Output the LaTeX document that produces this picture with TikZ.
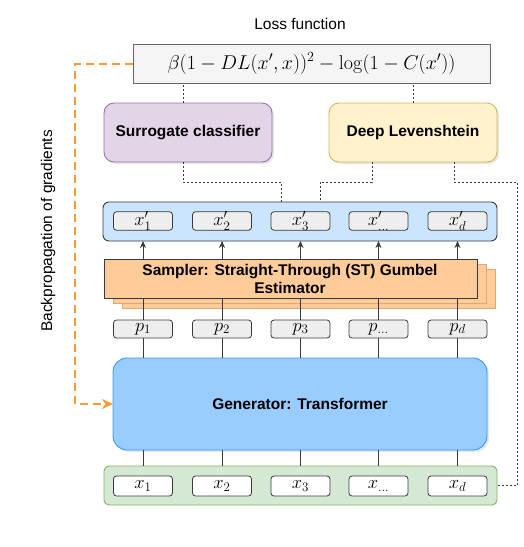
\documentclass[tikz,border=0pt]{standalone}
\usepackage{fix-cm}
\usepackage[no-math]{fontspec}
\setmainfont{Liberation Sans}
\usetikzlibrary{arrows.meta,shadows}
\definecolor{lossfill}{HTML}{F5F5F5}
\definecolor{lossdraw}{HTML}{666666}
\definecolor{surfill}{HTML}{E1D5E7}
\definecolor{surdraw}{HTML}{9673A6}
\definecolor{dlfill}{HTML}{FFF2CC}
\definecolor{dldraw}{HTML}{D6B656}
\definecolor{xpfill}{HTML}{CCE5FF}
\definecolor{darkline}{HTML}{36393D}
\definecolor{cellfill}{HTML}{EEEEEE}
\definecolor{sampfill}{HTML}{FFCC99}
\definecolor{sampback}{HTML}{E0A870}
\definecolor{genfill}{HTML}{99CCFF}
\definecolor{gendraw}{HTML}{3399FF}
\definecolor{grfill}{HTML}{D5E8D4}
\definecolor{grdraw}{HTML}{82B366}
\definecolor{bporange}{HTML}{FF9933}
\begin{document}
\begin{tikzpicture}[x=1pt,y=-1pt,
  every node/.style={inner sep=0pt, outer sep=0pt},
  lbl/.style={font=\fontsize{15.5}{18}\selectfont},
  blbl/.style={font=\fontsize{15.5}{18.5}\selectfont\bfseries, align=center},
  shd/.style={drop shadow={opacity=0.2, shadow xshift=2pt, shadow yshift=-2pt}},
  lossbox/.style={draw=lossdraw, fill=lossfill, line width=0.9pt, minimum width=357pt, minimum height=39pt},
  modbox/.style={rounded corners=10pt, line width=0.9pt, minimum width=168pt, minimum height=59pt, blbl, shd},
  rowbox/.style={rounded corners=6pt, line width=0.9pt, minimum width=394pt, minimum height=39pt},
  cell/.style={draw=darkline, fill=cellfill, rounded corners=3pt, line width=0.8pt, minimum width=59pt, minimum height=18pt, font=\fontsize{18.5}{18.5}\selectfont},
  xcell/.style={cell, fill=white, minimum height=20pt},
  sampbox/.style={draw=darkline, fill=sampfill, line width=0.8pt, minimum width=373pt, minimum height=39pt},
  sampbk/.style={sampbox, draw=sampback},
  dotline/.style={draw=darkline, line width=0.8pt, dash pattern=on 2pt off 2pt},
  conn/.style={draw=darkline, line width=0.8pt},
  arr/.style={conn, -{Stealth[length=7pt, width=6pt]}},
  bp/.style={draw=bporange, line width=2pt, dash pattern=on 8pt off 5pt, -{Stealth[length=11pt, width=10pt, inset=3.5pt]}}
]
\useasboundingbox (0,0) rectangle (523,547);

% loss
\node[lbl] (losslbl) at (300,24) {Loss function};
\node[lossbox] (loss) at (311.5,63.5) {\fontsize{20}{24}\selectfont$\beta(1-DL(x',x))^2-\log(1-C(x'))$};

% models
\node[modbox, draw=surdraw, fill=surfill] (surr) at (188,132.5) {Surrogate classifier};
\node[modbox, draw=dldraw, fill=dlfill] (dl) at (413,132.5) {Deep Levenshtein};

% x' row
\node[rowbox, draw=darkline, fill=xpfill] (xp) at (300,221.5) {};
\node[cell] (xp1) at (143,221) {$x'_1$};
\node[cell] (xp2) at (222,221) {$x'_2$};
\node[cell] (xp3) at (300.5,221) {$x'_3$};
\node[cell] (xp4) at (378.5,221) {$x'_{\dots}$};
\node[cell] (xp5) at (457.5,221) {$x'_d$};

% sampler
\node[sampbk] (samp3) at (308.5,288.5) {};
\node[sampbk] (samp2) at (299.5,283.5) {};
\node[sampbox] (samp) at (290.5,278.5) {};
\node[blbl] (samptxt) at (290,279) {Sampler: Straight-Through (ST) Gumbel\\Estimator};

% p row
\node[cell] (p1) at (143,329) {$p_1$};
\node[cell] (p2) at (222,329) {$p_2$};
\node[cell] (p3) at (300.5,329) {$p_3$};
\node[cell] (p4) at (378.5,329) {$p_{\dots}$};
\node[cell] (p5) at (457.5,329) {$p_d$};

% generator
\node[draw=gendraw, fill=genfill, rounded corners=14pt, line width=0.9pt, minimum width=374pt, minimum height=92pt, blbl, shd] (gen) at (300,404) {Generator: Transformer};

% input row
\node[rowbox, draw=grdraw, fill=grfill, minimum width=393pt, rounded corners=5pt] (green) at (300.5,485.5) {};
\node[xcell] (x1) at (143,486) {$x_1$};
\node[xcell] (x2) at (222,486) {$x_2$};
\node[xcell] (x3) at (300.5,486) {$x_3$};
\node[xcell] (x4) at (378.5,486) {$x_{\dots}$};
\node[xcell] (x5) at (457.5,486) {$x_d$};

% vertical connectors
\foreach \i in {1,...,5}{
  \draw[arr] (xp\i |- samp.north) -- (xp\i |- xp.south);
  \draw[conn] (p\i |- samp.south) -- (p\i.north);
  \draw[conn] (p\i.south) -- (p\i |- gen.north);
  \draw[conn] (x\i |- gen.south) -- (x\i |- green.north);
}

% dotted connectors
\coordinate (jA) at (281,182);
\coordinate (jB) at (320,182);
\coordinate (jC) at (517,182);
\draw[dotline] ([xshift=-5pt]surr.north) -- ([xshift=-5pt]surr.north |- loss.south);
\draw[dotline] (dl.north) -- (dl.north |- loss.south);
\draw[dotline] ([xshift=-5pt]surr.south) |- (jA) -- (jA |- xp.north);
\draw[dotline] ([xshift=-41pt]dl.south) |- (jB) -- (jB |- xp.north);
\draw[dotline] ([xshift=41pt]dl.south) |- (jC) |- (green.east);

% backpropagation
\coordinate (bpx) at (75,0);
\draw[bp] (loss.west) -- (loss.west -| bpx) -- (gen.west -| bpx) -- (gen.west);
\node[lbl, rotate=90] (bplbl) at (48,231) {Backpropagation of gradients};
\end{tikzpicture}
\end{document}
